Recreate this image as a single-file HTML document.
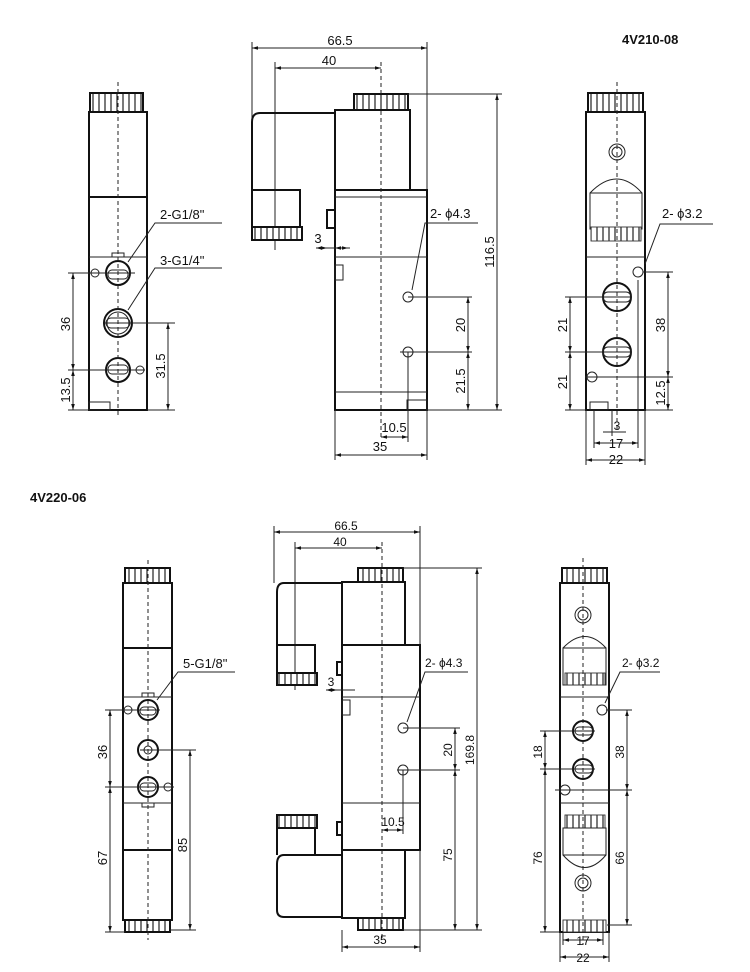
<!DOCTYPE html>
<html><head><meta charset="utf-8"><style>
html,body{margin:0;padding:0;background:#fff}
svg{display:block}
text{font-family:"Liberation Sans",Arial,sans-serif;fill:#111}
.o{fill:none;stroke:#111;stroke-width:2}
.t{fill:none;stroke:#222;stroke-width:1}
.c{fill:none;stroke:#222;stroke-width:1;stroke-dasharray:4 3}
.d{fill:none;stroke:#222;stroke-width:1;marker-start:url(#a);marker-end:url(#a)}
.k{fill:none;stroke:#333;stroke-width:0.9}
.kn{fill:url(#kn)!important}
</style></head><body>
<svg width="750" height="972" viewBox="0 0 750 972" xmlns="http://www.w3.org/2000/svg">
<defs>
<marker id="a" viewBox="0 0 10 10" refX="10" refY="5" markerWidth="9" markerHeight="6" markerUnits="userSpaceOnUse" orient="auto-start-reverse"><path d="M10,5 L0,2 L0,8 z" fill="#111"/></marker>
<pattern id="kn" width="6" height="10" patternUnits="userSpaceOnUse"><rect width="6" height="10" fill="#fff"/><line x1="3" y1="0" x2="3" y2="10" stroke="#222" stroke-width="1.2"/></pattern>
</defs>

<text x="622" y="44" font-size="13" font-weight="bold">4V210-08</text>
<text x="30" y="502" font-size="13" font-weight="bold">4V220-06</text>

<!-- ===== TOP LEFT VIEW ===== -->
<rect x="90" y="93" width="53" height="19" class="o kn"/>
<rect x="89" y="112" width="58" height="85" class="o"/>
<rect x="89" y="197" width="58" height="213" class="o"/>
<line x1="89" y1="257" x2="147" y2="257" class="t"/>
<rect x="112" y="253" width="12" height="4" class="t"/>
<circle cx="118" cy="273" r="12" class="o"/><rect x="108" y="270" width="20" height="9" rx="4" class="t"/>
<circle cx="118" cy="323" r="14" class="o"/><circle cx="118" cy="323" r="11" class="t"/><rect x="106" y="318" width="24" height="10" rx="5" class="t"/>
<circle cx="118" cy="370" r="12" class="o"/><rect x="108" y="365" width="20" height="9" rx="4" class="t"/>
<circle cx="95" cy="273" r="4" class="t"/><circle cx="140" cy="370" r="4" class="t"/>
<rect x="89" y="402" width="21" height="8" class="t"/>
<line x1="118" y1="82" x2="118" y2="418" class="c"/>
<line x1="68" y1="273" x2="135" y2="273" class="t"/>
<line x1="68" y1="370" x2="145" y2="370" class="t"/>
<line x1="68" y1="410" x2="89" y2="410" class="t"/>
<line x1="104" y1="323" x2="175" y2="323" class="t"/>
<line x1="147" y1="410" x2="175" y2="410" class="t"/>
<line x1="73" y1="273" x2="73" y2="370" class="d"/>
<line x1="73" y1="370" x2="73" y2="410" class="d"/>
<line x1="168" y1="323" x2="168" y2="410" class="d"/>
<text transform="translate(70,324) rotate(-90)" font-size="13" text-anchor="middle">36</text>
<text transform="translate(70,390) rotate(-90)" font-size="13" text-anchor="middle">13.5</text>
<text transform="translate(165,366) rotate(-90)" font-size="13" text-anchor="middle">31.5</text>
<text x="160" y="219" font-size="13">2-G1/8"</text>
<polyline points="222,223 155,223 128,262" class="t"/>
<text x="160" y="265" font-size="13">3-G1/4"</text>
<polyline points="222,268 155,268 128,310" class="t"/>

<!-- ===== TOP MIDDLE VIEW ===== -->
<line x1="252" y1="42" x2="252" y2="190" class="t"/>
<line x1="427" y1="42" x2="427" y2="190" class="t"/>
<line x1="275" y1="62" x2="275" y2="250" class="t"/>
<line x1="252" y1="48" x2="427" y2="48" class="d"/>
<line x1="275" y1="68" x2="381" y2="68" class="d"/>
<text x="340" y="45" font-size="13" text-anchor="middle">66.5</text>
<text x="329" y="65" font-size="13" text-anchor="middle">40</text>
<rect x="354" y="94" width="54" height="16" class="o kn"/>
<path d="M335,190 L335,110 L354,110 M408,110 L410,110 L410,190" class="o"/>
<path d="M335,113 L260,113 Q252,113 252,122 L252,190 L300,190 L300,227 M252,190 L252,227" class="o"/>
<rect x="252" y="227" width="50" height="13" class="o kn"/>
<rect x="335" y="190" width="92" height="220" class="o"/>
<line x1="335" y1="197" x2="427" y2="197" class="t"/>
<line x1="335" y1="257" x2="427" y2="257" class="t"/>
<line x1="335" y1="392" x2="427" y2="392" class="t"/>
<path d="M335,210 L327,210 L327,228 L335,228" class="o"/>
<rect x="335" y="265" width="8" height="15" class="t"/>
<circle cx="408" cy="297" r="5" class="t"/><circle cx="408" cy="352" r="5" class="t"/>
<rect x="407" y="400" width="20" height="10" class="t"/>
<line x1="381" y1="62" x2="381" y2="440" class="c"/>
<line x1="408" y1="94" x2="502" y2="94" class="t"/>
<line x1="408" y1="297" x2="472" y2="297" class="t"/>
<line x1="400" y1="352" x2="472" y2="352" class="t"/>
<line x1="427" y1="410" x2="502" y2="410" class="t"/>
<line x1="497" y1="94" x2="497" y2="410" class="d"/>
<line x1="468" y1="297" x2="468" y2="352" class="d"/>
<line x1="468" y1="352" x2="468" y2="410" class="d"/>
<text transform="translate(494,252) rotate(-90)" font-size="13" text-anchor="middle">116.5</text>
<text transform="translate(465,325) rotate(-90)" font-size="13" text-anchor="middle">20</text>
<text transform="translate(465,381) rotate(-90)" font-size="13" text-anchor="middle">21.5</text>
<line x1="408" y1="352" x2="408" y2="442" class="t"/>
<line x1="335" y1="410" x2="335" y2="460" class="t"/>
<line x1="427" y1="410" x2="427" y2="460" class="t"/>
<line x1="381" y1="437" x2="408" y2="437" class="d"/>
<line x1="335" y1="455" x2="427" y2="455" class="d"/>
<text x="394" y="432" font-size="13" text-anchor="middle">10.5</text>
<text x="380" y="451" font-size="13" text-anchor="middle">35</text>
<line x1="316" y1="248" x2="350" y2="248" class="t"/>
<line x1="316" y1="248" x2="327" y2="248" class="d"/>
<line x1="335" y1="248" x2="348" y2="248" class="d"/>
<text x="318" y="243" font-size="13" text-anchor="middle">3</text>
<text x="430" y="218" font-size="13">2- ϕ4.3</text>
<polyline points="478,223 425,223 412,290" class="t"/>

<!-- ===== TOP RIGHT VIEW ===== -->
<rect x="588" y="93" width="55" height="19" class="o kn"/>
<rect x="586" y="112" width="59" height="298" class="o"/>
<circle cx="617" cy="152" r="8" class="t"/><circle cx="617" cy="152" r="5" class="t"/>
<path d="M590,193 Q617,165 642,193" class="t"/>
<rect x="590" y="193" width="52" height="36" class="t"/>
<rect x="591" y="227" width="50" height="14" class="k kn"/>
<line x1="586" y1="257" x2="645" y2="257" class="t"/>
<circle cx="638" cy="272" r="5" class="t"/><circle cx="592" cy="377" r="5" class="t"/>
<circle cx="617" cy="297" r="14" class="o"/><rect x="603" y="292" width="28" height="10" rx="5" class="t"/>
<circle cx="617" cy="352" r="14" class="o"/><rect x="603" y="347" width="28" height="10" rx="5" class="t"/>
<rect x="590" y="402" width="18" height="8" class="t"/>
<line x1="617" y1="82" x2="617" y2="432" class="c"/>
<line x1="565" y1="297" x2="632" y2="297" class="t"/>
<line x1="565" y1="352" x2="632" y2="352" class="t"/>
<line x1="565" y1="410" x2="586" y2="410" class="t"/>
<line x1="643" y1="272" x2="673" y2="272" class="t"/>
<line x1="585" y1="377" x2="673" y2="377" class="t"/>
<line x1="645" y1="410" x2="673" y2="410" class="t"/>
<line x1="570" y1="297" x2="570" y2="352" class="d"/>
<line x1="570" y1="352" x2="570" y2="410" class="d"/>
<line x1="668" y1="272" x2="668" y2="377" class="d"/>
<line x1="668" y1="377" x2="668" y2="410" class="d"/>
<text transform="translate(567,325) rotate(-90)" font-size="13" text-anchor="middle">21</text>
<text transform="translate(567,382) rotate(-90)" font-size="13" text-anchor="middle">21</text>
<text transform="translate(665,325) rotate(-90)" font-size="13" text-anchor="middle">38</text>
<text transform="translate(665,393) rotate(-90)" font-size="13" text-anchor="middle">12.5</text>
<line x1="586" y1="410" x2="586" y2="465" class="t"/>
<line x1="645" y1="410" x2="645" y2="465" class="t"/>
<line x1="594" y1="410" x2="594" y2="448" class="t"/>
<line x1="638" y1="280" x2="638" y2="448" class="t"/>
<line x1="612" y1="410" x2="612" y2="436" class="t"/>
<line x1="603" y1="432" x2="626" y2="432" class="t"/>
<text x="617" y="430" font-size="12" text-anchor="middle">3</text>
<line x1="594" y1="443" x2="638" y2="443" class="d"/>
<line x1="586" y1="460" x2="645" y2="460" class="d"/>
<text x="616" y="448" font-size="13" text-anchor="middle">17</text>
<text x="616" y="464" font-size="13" text-anchor="middle">22</text>
<text x="662" y="218" font-size="13">2- ϕ3.2</text>
<polyline points="713,224 660,224 645,264" class="t"/>

<!-- ===== BOTTOM LEFT VIEW ===== -->
<rect x="125" y="568" width="45" height="15" class="o kn"/>
<rect x="123" y="583" width="49" height="65" class="o"/>
<rect x="123" y="648" width="49" height="202" class="o"/>
<line x1="123" y1="697" x2="172" y2="697" class="t"/>
<line x1="123" y1="803" x2="172" y2="803" class="t"/>
<rect x="142" y="693" width="12" height="4" class="t"/>
<rect x="142" y="803" width="12" height="4" class="t"/>
<rect x="123" y="850" width="49" height="70" class="o"/>
<rect x="125" y="920" width="45" height="12" class="o kn"/>
<circle cx="148" cy="710" r="10" class="o"/><rect x="140" y="707" width="16" height="8" rx="4" class="t"/>
<circle cx="148" cy="750" r="10" class="o"/><circle cx="148" cy="750" r="4" class="t"/>
<circle cx="148" cy="787" r="10" class="o"/><rect x="140" y="783" width="16" height="8" rx="4" class="t"/>
<circle cx="128" cy="710" r="4" class="t"/><circle cx="168" cy="787" r="4" class="t"/>
<line x1="148" y1="560" x2="148" y2="940" class="c"/>
<line x1="105" y1="710" x2="160" y2="710" class="t"/>
<line x1="105" y1="787" x2="174" y2="787" class="t"/>
<line x1="105" y1="932" x2="125" y2="932" class="t"/>
<line x1="140" y1="750" x2="196" y2="750" class="t"/>
<line x1="170" y1="930" x2="196" y2="930" class="t"/>
<line x1="110" y1="710" x2="110" y2="787" class="d"/>
<line x1="110" y1="787" x2="110" y2="932" class="d"/>
<line x1="190" y1="750" x2="190" y2="930" class="d"/>
<text transform="translate(107,752) rotate(-90)" font-size="13" text-anchor="middle">36</text>
<text transform="translate(107,858) rotate(-90)" font-size="13" text-anchor="middle">67</text>
<text transform="translate(187,845) rotate(-90)" font-size="13" text-anchor="middle">85</text>
<text x="183" y="668" font-size="13">5-G1/8"</text>
<polyline points="235,672 178,672 157,700" class="t"/>

<!-- ===== BOTTOM MIDDLE VIEW ===== -->
<line x1="274" y1="526" x2="274" y2="583" class="t"/>
<line x1="420" y1="526" x2="420" y2="645" class="t"/>
<line x1="295" y1="542" x2="295" y2="690" class="t"/>
<line x1="274" y1="532" x2="420" y2="532" class="d"/>
<line x1="295" y1="548" x2="382" y2="548" class="d"/>
<text x="346" y="530" font-size="12" text-anchor="middle">66.5</text>
<text x="340" y="546" font-size="12" text-anchor="middle">40</text>
<rect x="358" y="568" width="45" height="14" class="o kn"/>
<path d="M342,645 L342,582 L358,582 M403,582 L405,582 L405,645" class="o"/>
<path d="M342,583 L284,583 Q277,583 277,592 L277,673 M277,645 L315,645 L315,673" class="o"/>
<rect x="277" y="673" width="40" height="12" class="o kn"/>
<rect x="342" y="645" width="78" height="205" class="o"/>
<line x1="342" y1="697" x2="420" y2="697" class="t"/>
<line x1="342" y1="803" x2="420" y2="803" class="t"/>
<path d="M342,662 L337,662 L337,675 L342,675" class="o"/>
<path d="M342,822 L337,822 L337,835 L342,835" class="o"/>
<rect x="342" y="700" width="8" height="15" class="t"/>
<circle cx="403" cy="728" r="5" class="t"/><circle cx="403" cy="770" r="5" class="t"/>
<path d="M342,850 L342,918 L358,918 M403,918 L405,918 L405,850" class="o"/>
<line x1="342" y1="850" x2="420" y2="850" class="o"/>
<rect x="358" y="918" width="45" height="12" class="o kn"/>
<path d="M342,855 L284,855 Q277,855 277,864 L277,910 Q277,917 284,917 L342,917 M277,828 L277,855 M315,828 L315,855" class="o"/>
<rect x="277" y="815" width="40" height="13" class="o kn"/>
<line x1="382" y1="542" x2="382" y2="940" class="c"/>
<line x1="403" y1="568" x2="482" y2="568" class="t"/>
<line x1="403" y1="728" x2="460" y2="728" class="t"/>
<line x1="397" y1="770" x2="460" y2="770" class="t"/>
<line x1="403" y1="930" x2="482" y2="930" class="t"/>
<line x1="477" y1="568" x2="477" y2="930" class="d"/>
<line x1="455" y1="728" x2="455" y2="770" class="d"/>
<line x1="455" y1="770" x2="455" y2="930" class="d"/>
<text transform="translate(474,750) rotate(-90)" font-size="12" text-anchor="middle">169.8</text>
<text transform="translate(452,750) rotate(-90)" font-size="12" text-anchor="middle">20</text>
<text transform="translate(452,855) rotate(-90)" font-size="12" text-anchor="middle">75</text>
<line x1="403" y1="770" x2="403" y2="834" class="t"/>
<line x1="382" y1="830" x2="403" y2="830" class="d"/>
<text x="393" y="826" font-size="12" text-anchor="middle">10.5</text>
<line x1="342" y1="930" x2="342" y2="952" class="t"/>
<line x1="420" y1="850" x2="420" y2="952" class="t"/>
<line x1="342" y1="947" x2="420" y2="947" class="d"/>
<text x="380" y="944" font-size="12" text-anchor="middle">35</text>
<line x1="326" y1="690" x2="355" y2="690" class="t"/>
<line x1="326" y1="690" x2="337" y2="690" class="d"/>
<text x="331" y="686" font-size="12" text-anchor="middle">3</text>
<text x="425" y="667" font-size="12">2- ϕ4.3</text>
<polyline points="468,672 425,672 407,722" class="t"/>

<!-- ===== BOTTOM RIGHT VIEW ===== -->
<rect x="562" y="568" width="45" height="15" class="o kn"/>
<rect x="560" y="583" width="49" height="349" class="o"/>
<circle cx="583" cy="615" r="8" class="t"/><circle cx="583" cy="615" r="5" class="t"/>
<path d="M563,648 Q585,625 606,648" class="t"/>
<rect x="563" y="648" width="43" height="37" class="t"/>
<rect x="565" y="673" width="40" height="12" class="k kn"/>
<line x1="560" y1="697" x2="609" y2="697" class="t"/>
<line x1="560" y1="803" x2="609" y2="803" class="t"/>
<circle cx="602" cy="710" r="5" class="t"/><circle cx="565" cy="790" r="5" class="t"/>
<circle cx="583" cy="731" r="10" class="o"/><rect x="575" y="727" width="18" height="8" rx="4" class="t"/>
<circle cx="583" cy="769" r="10" class="o"/><rect x="575" y="765" width="18" height="8" rx="4" class="t"/>
<rect x="565" y="815" width="40" height="13" class="k kn"/>
<rect x="563" y="828" width="43" height="27" class="t"/>
<path d="M563,855 Q585,880 606,855" class="t"/>
<circle cx="583" cy="883" r="8" class="t"/><circle cx="583" cy="883" r="5" class="t"/>
<rect x="563" y="920" width="43" height="12" class="k kn"/>
<line x1="583" y1="558" x2="583" y2="945" class="c"/>
<line x1="540" y1="731" x2="595" y2="731" class="t"/>
<line x1="540" y1="769" x2="595" y2="769" class="t"/>
<line x1="540" y1="932" x2="560" y2="932" class="t"/>
<line x1="606" y1="710" x2="632" y2="710" class="t"/>
<line x1="555" y1="790" x2="632" y2="790" class="t"/>
<line x1="607" y1="925" x2="632" y2="925" class="t"/>
<line x1="545" y1="731" x2="545" y2="769" class="d"/>
<line x1="545" y1="769" x2="545" y2="932" class="d"/>
<line x1="627" y1="710" x2="627" y2="790" class="d"/>
<line x1="627" y1="790" x2="627" y2="925" class="d"/>
<text transform="translate(542,752) rotate(-90)" font-size="12" text-anchor="middle">18</text>
<text transform="translate(542,858) rotate(-90)" font-size="12" text-anchor="middle">76</text>
<text transform="translate(624,752) rotate(-90)" font-size="12" text-anchor="middle">38</text>
<text transform="translate(624,858) rotate(-90)" font-size="12" text-anchor="middle">66</text>
<line x1="560" y1="932" x2="560" y2="962" class="t"/>
<line x1="609" y1="932" x2="609" y2="962" class="t"/>
<line x1="563" y1="932" x2="563" y2="945" class="t"/>
<line x1="603" y1="932" x2="603" y2="945" class="t"/>
<line x1="563" y1="940" x2="603" y2="940" class="d"/>
<line x1="560" y1="957" x2="609" y2="957" class="d"/>
<text x="583" y="945" font-size="12" text-anchor="middle">17</text>
<text x="583" y="962" font-size="12" text-anchor="middle">22</text>
<text x="622" y="667" font-size="12">2- ϕ3.2</text>
<polyline points="660,672 620,672 605,703" class="t"/>
</svg>
</body></html>
